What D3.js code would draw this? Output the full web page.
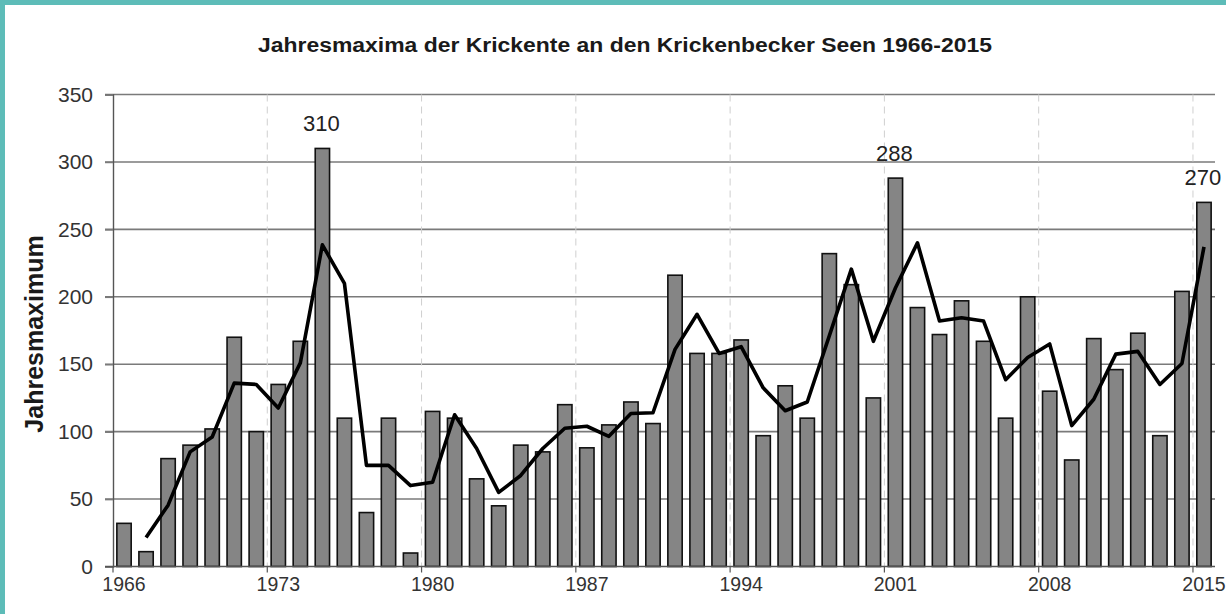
<!DOCTYPE html>
<html>
<head>
<meta charset="utf-8">
<script src="https://cdn.jsdelivr.net/npm/d3@7"></script>
<style>
  html, body { margin: 0; padding: 0; background: #5dbcb8; }
  svg { display: block; font-family: "Liberation Sans", Arial, sans-serif; }
</style>
</head>
<body>
<svg id="chart" width="1226" height="614"></svg>
<script>

////////// DATA //////////

const years = d3.range(1966, 2016);

// Jahresmaxima (bars)
const maxima = [
  32, 11, 80, 90, 102, 170, 100, 135, 167, 310,
  110, 40, 110, 10, 115, 110, 65, 45, 90, 85,
  120, 88, 105, 122, 106, 216, 158, 158, 168, 97,
  134, 110, 232, 209, 125, 288, 192, 172, 197, 167,
  110, 200, 130, 79, 169, 146, 173, 97, 204, 270
];

// gleitender Mittelwert (line), starts 1967
const trendYears = d3.range(1967, 2016);
const trend = [
  21.5, 45.5, 85, 96, 136, 135, 117.5, 151, 238.5,
  210, 75, 75, 60, 62.5, 112.5, 87.5, 55, 67.5, 87.5,
  102.5, 104, 96.5, 113.5, 114, 161, 187, 158, 163, 132.5,
  115.5, 122, 171, 220.5, 167, 206.5, 240, 182, 184.5, 182,
  138.5, 155, 165, 104.5, 124, 157.5, 159.5, 135, 150.5, 237
];

const tickYears = [1966, 1973, 1980, 1987, 1994, 2001, 2008, 2015];
const labelYears = [1975, 2001, 2015];
const yTicks = [0, 50, 100, 150, 200, 250, 300, 350];

const titleText = "Jahresmaxima der Krickente an den Krickenbecker Seen 1966-2015";
const yTitle = "Jahresmaximum";


////////// SETUP //////////

const W = 1226, H = 614;
const plot = { left: 113, right: 1215, top: 94.5, bottom: 566.5 };

const svg = d3.select("#chart");

// white card inside the teal frame
svg.append("rect")
    .attr("x", 5).attr("y", 5)
    .attr("width", W - 5).attr("height", H - 5)
    .attr("fill", "#ffffff");

const x = d3.scaleBand()
    .domain(years)
    .range([plot.left, plot.right])
    .paddingInner(0.35)
    .paddingOuter(0.175);

const y = d3.scaleLinear()
    .domain([0, 350])
    .range([plot.bottom, plot.top]);

const cx = yr => x(yr) + x.bandwidth() / 2;
const bandStart = yr => x(yr) - x.step() * 0.175;


////////// GRID //////////

// horizontal grid lines
svg.append("g")
    .attr("class", "grid-y")
  .selectAll("line")
    .data(yTicks.slice(1))
    .enter()
    .append("line")
    .attr("x1", plot.left - 8)
    .attr("x2", plot.right)
    .attr("y1", d => y(d))
    .attr("y2", d => y(d))
    .attr("stroke", "#7a7a7a")
    .attr("stroke-width", 1.6);

// vertical dashed lines at the start of every 7th year
svg.append("g")
    .attr("class", "grid-x")
  .selectAll("line")
    .data(tickYears.slice(1))
    .enter()
    .append("line")
    .attr("x1", d => bandStart(d))
    .attr("x2", d => bandStart(d))
    .attr("y1", plot.top)
    .attr("y2", plot.bottom)
    .attr("stroke", "#cfcfcf")
    .attr("stroke-width", 1)
    .attr("stroke-dasharray", "7,5");


////////// BARS //////////

svg.append("g")
    .attr("class", "bars")
  .selectAll("rect")
    .data(years.map((yr, i) => ({ year: yr, value: maxima[i] })))
    .enter()
    .append("rect")
    .attr("x", d => x(d.year))
    .attr("y", d => y(d.value))
    .attr("width", x.bandwidth())
    .attr("height", d => plot.bottom - y(d.value))
    .attr("fill", "#858585")
    .attr("stroke", "#111")
    .attr("stroke-width", 1.6);


////////// TREND LINE //////////

const line = d3.line()
    .x(d => cx(d.year))
    .y(d => y(d.value));

svg.append("path")
    .datum(trendYears.map((yr, i) => ({ year: yr, value: trend[i] })))
    .attr("d", line)
    .attr("fill", "none")
    .attr("stroke", "#000")
    .attr("stroke-width", 3.6)
    .attr("stroke-linejoin", "round");


////////// AXES //////////

// y axis
const yAxis = svg.append("g")
    .attr("transform", "translate(" + plot.left + ",0)")
    .call(d3.axisLeft(y).tickValues(yTicks).tickSize(8).tickPadding(12));

yAxis.select(".domain").attr("stroke", "#555").attr("stroke-width", 1.4);
yAxis.selectAll(".tick line").attr("stroke", "#7a7a7a").attr("stroke-width", 1.6);
yAxis.selectAll(".tick text")
    .attr("fill", "#333")
    .style("font-size", "21px");

// x axis line
svg.append("line")
    .attr("x1", plot.left - 8).attr("x2", plot.right)
    .attr("y1", plot.bottom).attr("y2", plot.bottom)
    .attr("stroke", "#555")
    .attr("stroke-width", 1.6);

// x ticks at band starts
svg.append("g")
  .selectAll("line")
    .data(tickYears)
    .enter()
    .append("line")
    .attr("x1", d => bandStart(d))
    .attr("x2", d => bandStart(d))
    .attr("y1", plot.bottom)
    .attr("y2", plot.bottom + 6)
    .attr("stroke", "#555")
    .attr("stroke-width", 1.2);

// x labels centred under the bars
svg.append("g")
  .selectAll("text")
    .data(tickYears)
    .enter()
    .append("text")
    .attr("x", d => cx(d))
    .attr("y", plot.bottom + 24)
    .attr("text-anchor", "middle")
    .attr("fill", "#333")
    .style("font-size", "19.5px")
    .text(d => d);


////////// TEXT //////////

svg.append("text")
    .attr("x", 625)
    .attr("y", 52)
    .attr("text-anchor", "middle")
    .attr("fill", "#1a1a1a")
    .attr("textLength", 734)
    .attr("lengthAdjust", "spacingAndGlyphs")
    .style("font-size", "20px")
    .style("font-weight", "bold")
    .text(titleText);

svg.append("text")
    .attr("transform", "translate(43,334) rotate(-90)")
    .attr("text-anchor", "middle")
    .attr("fill", "#1a1a1a")
    .style("font-size", "25px")
    .style("font-weight", "bold")
    .text(yTitle);

// peak labels
svg.append("g")
  .selectAll("text")
    .data(labelYears)
    .enter()
    .append("text")
    .attr("x", d => cx(d) - 1)
    .attr("y", d => y(maxima[years.indexOf(d)]) - 17)
    .attr("text-anchor", "middle")
    .attr("fill", "#222")
    .style("font-size", "22px")
    .text(d => maxima[years.indexOf(d)]);

</script>
</body>
</html>
